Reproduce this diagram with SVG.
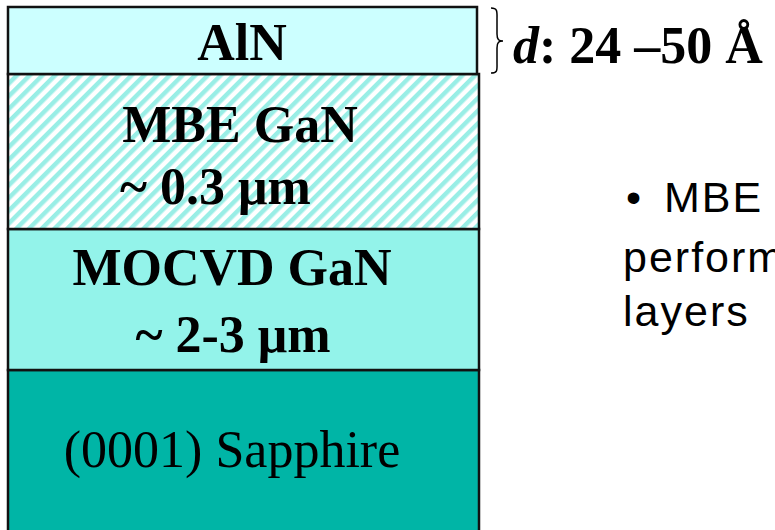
<svg xmlns="http://www.w3.org/2000/svg" width="775" height="530" viewBox="0 0 775 530">
<defs>
<pattern id="hatch" patternUnits="userSpaceOnUse" width="9" height="9" patternTransform="rotate(45)">
<rect width="9" height="9" fill="#ffffff"/>
<rect width="4.5" height="9" fill="#99eee6"/>
</pattern>
<style>
.layer{stroke:#111;stroke-width:2.5}
.b{font-family:"Liberation Serif","Times New Roman",serif;font-weight:bold;font-size:52px;fill:#000}
.r{font-family:"Liberation Serif","Times New Roman",serif;font-size:52px;fill:#000}
.s{font-family:"Liberation Sans",Arial,sans-serif;font-size:43px;letter-spacing:2px;fill:#000}
</style>
</defs>
<rect width="775" height="530" fill="#ffffff"/>
<g id="sapphire">
<rect class="layer" x="8" y="370" width="471" height="175" fill="#00b5a6"/>
<text class="r" x="232" y="467" text-anchor="middle">(0001) Sapphire</text>
</g>
<g id="mocvd">
<rect class="layer" x="8" y="229" width="471" height="141" fill="#93f3ea"/>
<text class="b" x="232" y="285" text-anchor="middle">MOCVD GaN</text>
<text class="b" x="233" y="352" text-anchor="middle">~ 2-3 μm</text>
</g>
<g id="mbe">
<rect class="layer" x="8" y="74" width="471" height="155" fill="url(#hatch)"/>
<text class="b" x="240" y="142" text-anchor="middle">MBE GaN</text>
<text class="b" x="120" y="204">~ 0.3 μm</text>
</g>
<g id="aln">
<rect class="layer" x="8" y="7" width="469" height="67" fill="#ccffff"/>
<text class="b" x="242" y="60" text-anchor="middle">AlN</text>
</g>
<g id="thickness">
<path d="M491,8 C498,8 497,12 497,20 L497,34 C497,40 499,41 503,41 C499,41 497,42 497,48 L497,62 C497,70 498,73 491,73" fill="none" stroke="#000" stroke-width="1.5"/>
<text class="b" x="513" y="63" font-size="51"><tspan font-style="italic">d</tspan>: 24 –50 Å</text>
</g>
<g id="note">
<text class="s" y="212"><tspan x="626">•</tspan><tspan x="664">MBE</tspan></text>
<text class="s" x="623" y="272">perform</text>
<text class="s" x="623" y="326">layers</text>
</g>
</svg>
